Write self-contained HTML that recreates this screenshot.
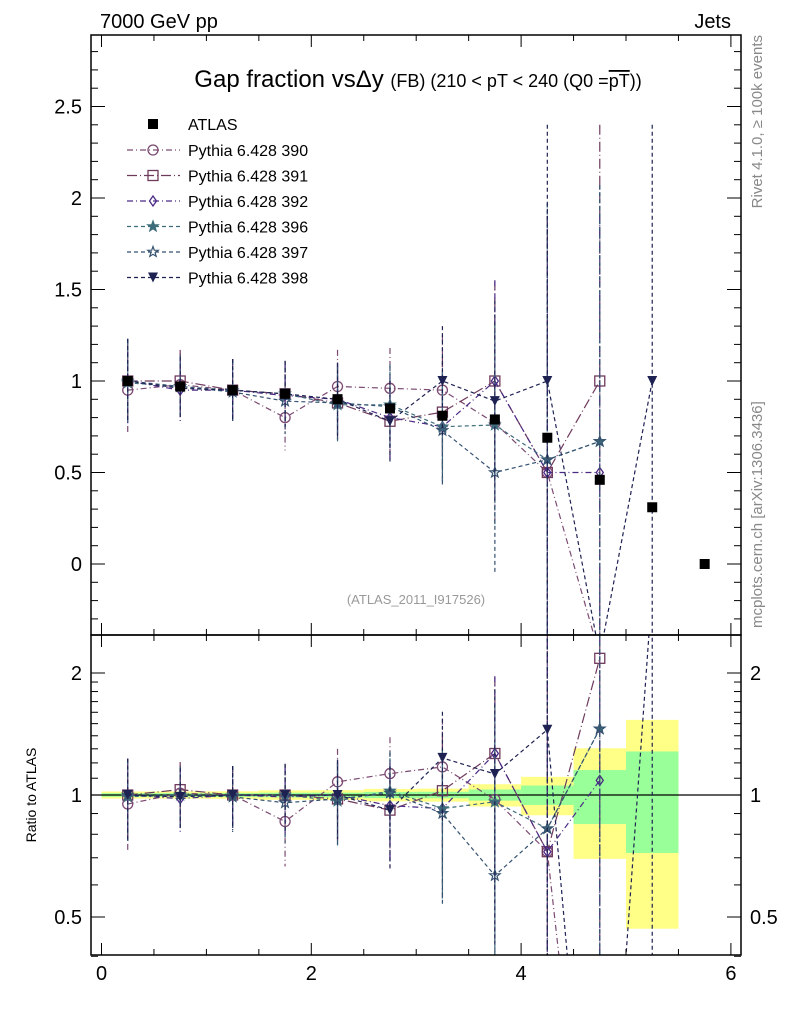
<!DOCTYPE html>
<html><head><meta charset="utf-8"><style>
html,body{margin:0;background:#fff;overflow:hidden;width:786px;height:1024px}
svg{font-family:"Liberation Sans",sans-serif;display:block}
</style></head><body>
<svg id="c" width="786" height="1024" xmlns="http://www.w3.org/2000/svg">
<defs>
<clipPath id="cm"><rect x="91" y="35" width="650" height="600"/></clipPath>
<clipPath id="cr"><rect x="91" y="635" width="650" height="320"/></clipPath>
</defs>
<text x="100" y="28" font-size="20">7000 GeV pp</text>
<text x="731" y="28" font-size="20" text-anchor="end">Jets</text>
<text transform="translate(762,35) rotate(-90)" font-size="15" fill="#888" text-anchor="end">Rivet 4.1.0, ≥ 100k events</text>
<text transform="translate(762,628) rotate(-90)" font-size="15" fill="#888">mcplots.cern.ch [arXiv:1306.3436]</text>
<text x="418" y="87" font-size="24" text-anchor="middle">Gap fraction vsΔy <tspan font-size="18">(FB) (210 &lt; pT &lt; 240 (Q0 =</tspan><tspan font-size="18" text-decoration="overline">pT</tspan><tspan font-size="18">))</tspan></text>
<text x="416" y="604" font-size="13" fill="#999" text-anchor="middle">(ATLAS_2011_I917526)</text>
<text transform="translate(36,795) rotate(-90)" font-size="14" text-anchor="middle">Ratio to ATLAS</text>
<g id="bands" clip-path="url(#cr)"></g>
<g id="marks"></g>
<rect x="91" y="35" width="650" height="600" fill="none" stroke="#000" stroke-width="1.5"/>
<rect x="91" y="635" width="650" height="320" fill="none" stroke="#000" stroke-width="1.5"/>
<g id="axes"></g>
<g id="legend"></g>
</svg>
<script>
const xCenters=[0.25,0.75,1.25,1.75,2.25,2.75,3.25,3.75,4.25,4.75,5.25,5.75];
const atlas=[1.0,0.97,0.95,0.93,0.90,0.85,0.81,0.79,0.69,0.46,0.31,0.0];
const statErr=[0.01,0.01,0.01,0.012,0.012,0.015,0.015,0.025,0.038,0.07,0.087,0];
const totErr=[0.02,0.02,0.02,0.025,0.025,0.03,0.03,0.05,0.075,0.14,0.165,0];
const s390=[0.95,0.98,0.95,0.80,0.97,0.96,0.95,0.77,0.50,-0.5];
const s391=[1.0,1.0,0.95,0.93,0.88,0.78,0.83,1.0,0.5,1.0];
const s392=[1.0,0.95,0.95,0.92,0.90,0.80,0.75,1.0,0.5,0.5];
const s396=[0.99,0.97,0.95,0.93,0.87,0.87,0.75,0.76,0.57,0.67];
const s397=[1.0,0.97,0.94,0.89,0.88,0.86,0.73,0.5,0.57,0.67];
const s398=[1.0,0.96,0.95,0.93,0.90,0.78,1.0,0.89,1.0,-0.5,1.0];
const mcErr=[0.23,0.17,0.17,0.18,0.2,0.22,0.3,0.55,1.4,1.4,1.4];
const yTicks=[0,0.5,1,1.5,2,2.5];
const yTickLabels=["0","0.5","1","1.5","2","2.5"];
const rTicks=[0.5,1,2];
const rTickLabels=["0.5","1","2"];
const xTicks=[0,2,4,6];
const xTickLabels=["0","2","4","6"];
const series=[
 {name:"Pythia 6.428 390",v:s390,c:"#7b4a72",m:"circle",d:"6,3,1,3"},
 {name:"Pythia 6.428 391",v:s391,c:"#6e3a5c",m:"square",d:"10,3,1,3"},
 {name:"Pythia 6.428 392",v:s392,c:"#4b2a86",m:"diamond",d:"6,3,1,3"},
 {name:"Pythia 6.428 396",v:s396,c:"#3f6c7a",m:"starf",d:"4,3"},
 {name:"Pythia 6.428 397",v:s397,c:"#355270",m:"star",d:"4,3"},
 {name:"Pythia 6.428 398",v:s398,c:"#1e2252",m:"tri",d:"4,3"}];
const NS="http://www.w3.org/2000/svg";
const X=v=>101.5+104.9*v, Y=v=>564-183*v, R=r=>795-122*Math.log2(r);
function el(t,a,p){const e=document.createElementNS(NS,t);for(const k in a)e.setAttribute(k,a[k]);(p||document.getElementById('marks')).appendChild(e);return e;}
const ax=document.getElementById('axes');
for(let v=0;v<=6.01;v+=0.5){const major=Math.abs(v%2)<0.01;const L=major?12:6;
 for(const [b,t] of [[635,35],[955,635]]){const a=el('line',{x1:X(v),x2:X(v),y1:b,y2:b-L,stroke:'#000'},ax);const a2=el('line',{x1:X(v),x2:X(v),y1:t,y2:t+L,stroke:'#000'},ax);}}
xTicks.forEach((v,i)=>{const t=el('text',{x:X(v),y:980,'font-size':20,'text-anchor':'middle'},ax);t.textContent=xTickLabels[i];});
for(let v=-0.3;v<=2.85;v+=0.1){const vv=Math.round(v*10)/10;const major=Math.abs(vv*2-Math.round(vv*2))<0.01;const L=major?14:7;
 const a=el('line',{x1:91,x2:91+L,y1:Y(vv),y2:Y(vv),stroke:'#000'},ax);
 const b=el('line',{x1:741,x2:741-L,y1:Y(vv),y2:Y(vv),stroke:'#000'},ax);}
yTicks.forEach((v,i)=>{const t=el('text',{x:82,y:Y(v)+7,'font-size':20,'text-anchor':'end'},ax);t.textContent=yTickLabels[i];});
[0.4,0.5,0.6,0.7,0.8,0.9,1,1.1,1.2,1.3,1.4,1.5,1.6,1.7,1.8,1.9,2].forEach(r=>{const major=rTicks.includes(r);const L=major?14:7;
 const a=el('line',{x1:91,x2:91+L,y1:R(r),y2:R(r),stroke:'#000'},ax);
 const b=el('line',{x1:741,x2:741-L,y1:R(r),y2:R(r),stroke:'#000'},ax);});
rTicks.forEach((v,i)=>{for(const [x,an] of [[82,'end'],[750,'start']]){const t=el('text',{x:x,y:R(v)+7,'font-size':20,'text-anchor':an},ax);t.textContent=rTickLabels[i];}});
const bg=document.getElementById('bands');
xCenters.forEach((x,i)=>{if(atlas[i]<=0)return;
 const y1=el('rect',{x:X(x-0.25),width:X(0.5)-X(0),y:R(1+totErr[i]/atlas[i]),height:R(1-totErr[i]/atlas[i])-R(1+totErr[i]/atlas[i]),fill:'#ffff88'},bg);
 const g1=el('rect',{x:X(x-0.25),width:X(0.5)-X(0),y:R(1+statErr[i]/atlas[i]),height:R(1-statErr[i]/atlas[i])-R(1+statErr[i]/atlas[i]),fill:'#99ff99'},bg);});
const one=el('line',{x1:91,x2:741,y1:R(1),y2:R(1),stroke:'#000','stroke-width':1.2},bg);
function marker(g,m,x,y,c,s){s=s||5;let e;
 if(m==='circle')e=el('circle',{cx:x,cy:y,r:s,fill:'none',stroke:c,'stroke-width':1.3},g);
 else if(m==='square')e=el('rect',{x:x-s,y:y-s,width:2*s,height:2*s,fill:'none',stroke:c,'stroke-width':1.3},g);
 else if(m==='fsquare')e=el('rect',{x:x-s,y:y-s,width:2*s,height:2*s,fill:c},g);
 else if(m==='diamond')e=el('polygon',{points:`${x},${y-s} ${x+s*0.7},${y} ${x},${y+s} ${x-s*0.7},${y}`,fill:'none',stroke:c,'stroke-width':1.3},g);
 else if(m==='tri')e=el('polygon',{points:`${x-s},${y-s} ${x+s},${y-s} ${x},${y+s}`,fill:c},g);
 else {let p=[];for(let k=0;k<10;k++){const a=-Math.PI/2+k*Math.PI/5,rr=k%2?s*0.45:s*1.1;p.push((x+rr*Math.cos(a)).toFixed(1)+','+(y+rr*Math.sin(a)).toFixed(1));}
  e=el('polygon',{points:p.join(' '),fill:m==='starf'?c:'none',stroke:c,'stroke-width':1.2},g);}
 return e;}
const mg=el('g',{'clip-path':'url(#cm)'});
const rg=el('g',{'clip-path':'url(#cr)'});
series.forEach((s,si)=>{
 const pm=[],pr=[];
 s.v.forEach((v,i)=>{pm.push(X(xCenters[i])+','+Y(v));pr.push(X(xCenters[i])+','+R(Math.max(v/atlas[i],0.05)));});
 const l=el('polyline',{points:pm.join(' '),fill:'none',stroke:s.c,'stroke-width':1.2,'stroke-dasharray':s.d},mg);
 const l2=el('polyline',{points:pr.join(' '),fill:'none',stroke:s.c,'stroke-width':1.2,'stroke-dasharray':s.d},rg);
 s.v.forEach((v,i)=>{const x=X(xCenters[i]),e=mcErr[i];
  if(v<0)return;
  const b=el('line',{x1:x,x2:x,y1:Y(v+e),y2:Y(v-e),stroke:s.c,'stroke-width':1.2,'stroke-dasharray':s.d},mg);
  const rv=v/atlas[i],re=e/atlas[i];
  const b2=el('line',{x1:x,x2:x,y1:R(rv+re),y2:R(Math.max(rv-re,0.05)),stroke:s.c,'stroke-width':1.2,'stroke-dasharray':s.d},rg);
  const m=marker(mg,s.m,x,Y(v),s.c);
  const m2=marker(rg,s.m,x,R(Math.max(rv,0.05)),s.c);});
});
xCenters.forEach((x,i)=>{const m=marker(mg,'fsquare',X(x),Y(atlas[i]),'#000',5);});
const lg=document.getElementById('legend');
const la=marker(lg,'fsquare',153,124,'#000',5);
const lt=el('text',{x:188,y:130,'font-size':16},lg);lt.textContent='ATLAS';
series.forEach((s,i)=>{const y=150+25.5*i;
 const l=el('line',{x1:127,x2:180,y1:y,y2:y,stroke:s.c,'stroke-width':1.2,'stroke-dasharray':s.d},lg);
 const m=marker(lg,s.m,153,y,s.c);
 const t=el('text',{x:188,y:y+6,'font-size':16},lg);t.textContent=s.name;});
</script>
</body></html>
